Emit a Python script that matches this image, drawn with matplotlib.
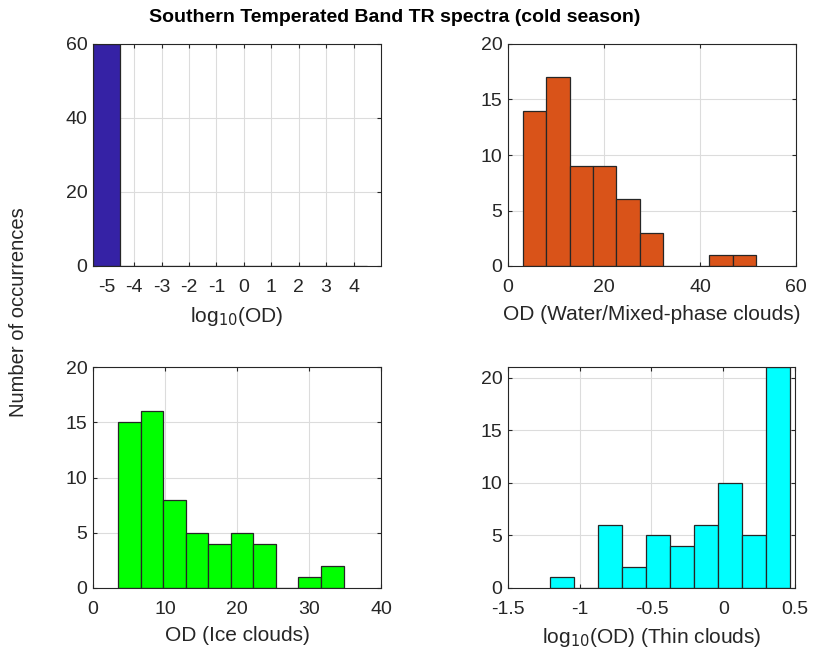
import numpy as np
from matplotlib import pyplot as plt

# Histograma 1: log10(OD), todos os casos no primeiro bin
bordas_log = [-5.5, -4.5, -3.5, -2.5, -1.5, -0.5, 0.5, 1.5, 2.5, 3.5, 4.5]
contagem_log = [60, 0, 0, 0, 0, 0, 0, 0, 0, 0]

# Histograma 2: OD (nuvens de agua / fase mista)
bordas_agua = [3.12, 7.97, 12.83, 17.68, 22.54, 27.40, 32.25, 37.10, 41.96, 46.81, 51.67]
contagem_agua = [14, 17, 9, 9, 6, 3, 0, 0, 1, 1]

# Histograma 3: OD (nuvens de gelo)
bordas_gelo = [3.50, 6.63, 9.76, 12.89, 16.02, 19.15, 22.28, 25.41, 28.54, 31.67, 34.80]
contagem_gelo = [15, 16, 8, 5, 4, 5, 4, 0, 1, 2]

# Histograma 4: log10(OD) (nuvens finas)
bordas_finas = [-1.207, -1.040, -0.872, -0.705, -0.538, -0.371, -0.204, -0.036, 0.131, 0.298, 0.465]
contagem_finas = [1, 0, 6, 2, 5, 4, 6, 10, 5, 21]

plt.rcParams['font.family'] = ['Liberation Sans', 'DejaVu Sans']

fig = plt.figure(figsize=(8.15, 6.57), dpi=100)

# posicoes dos eixos (em fracao da figura)
posicoes = [
    [93 / 815, 1 - 266 / 657, (381 - 93) / 815, (266 - 44) / 657],
    [508 / 815, 1 - 266 / 657, (796 - 508) / 815, (266 - 44) / 657],
    [93 / 815, 1 - 588 / 657, (381 - 93) / 815, (588 - 367) / 657],
    [508 / 815, 1 - 588 / 657, (795 - 508) / 815, (588 - 367) / 657],
]

dados = [
    (bordas_log, contagem_log, "#3522a5", (-5.5, 5), (0, 60),
     list(range(-5, 5)), [0, 20, 40, 60], r"log$_{10}$(OD)"),
    (bordas_agua, contagem_agua, "#d95319", (0, 60), (0, 20),
     [0, 20, 40, 60], [0, 5, 10, 15, 20], "OD (Water/Mixed-phase clouds)"),
    (bordas_gelo, contagem_gelo, "#00ff00", (0, 40), (0, 20),
     [0, 10, 20, 30, 40], [0, 5, 10, 15, 20], "OD (Ice clouds)"),
    (bordas_finas, contagem_finas, "#00ffff", (-1.5, 0.5), (0, 21),
     [-1.5, -1, -0.5, 0, 0.5], [0, 5, 10, 15, 20], r"log$_{10}$(OD) (Thin clouds)"),
]

for i, (pos, (bordas, contagem, cor, xlim, ylim, xt, yt, rotulo)) in enumerate(zip(posicoes, dados)):
    ax = fig.add_axes(pos)
    bordas = np.array(bordas)
    ax.bar(bordas[:-1], contagem, width=np.diff(bordas), align="edge",
           color=cor, edgecolor="#262626", linewidth=0.9, zorder=3)
    ax.set_xlim(xlim)
    ax.set_ylim(ylim)
    ax.set_xticks(xt)
    ax.set_yticks(yt)
    ax.set_xticklabels([("%g" % v) for v in xt])
    ax.grid(True, color="#dcdcdc", linewidth=0.8, zorder=0)
    ax.set_axisbelow(True)
    ax.tick_params(direction="in", length=3, top=True, right=True,
                   labelsize=14, colors="#262626")
    ax.tick_params(axis="x", pad=9)
    ax.tick_params(axis="y", pad=4)
    for sp in ax.spines.values():
        sp.set_color("#262626")
        sp.set_linewidth(0.8)
        sp.set_zorder(4)
    ax.set_xlabel(rotulo, fontsize=15, color="#262626", labelpad=7 if i < 2 else 6)

fig.text(395 / 815, 1 - 18 / 657, "Southern Temperated Band TR spectra (cold season)",
         ha="center", va="center", fontsize=14, fontweight="bold")
fig.text(19 / 815, 1 - 312 / 657, "Number of occurrences", ha="center", va="center",
         rotation=90, fontsize=14.5, color="#262626")

plt.savefig("out.png", dpi=100)
